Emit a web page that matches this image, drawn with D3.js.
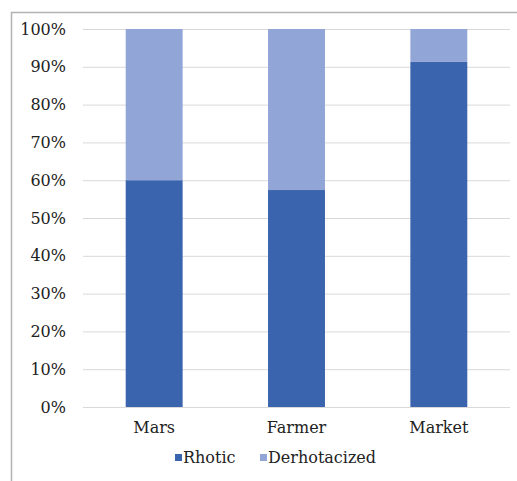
<!DOCTYPE html>
<html><head><meta charset="utf-8">
<script src="https://cdn.jsdelivr.net/npm/d3@7"></script>
<style>body{margin:0;background:#fff}svg{display:block}</style>
</head><body>
<script>
const categories = ["Mars", "Farmer", "Market"];
const rhotic = [0.60, 0.574, 0.913];
const derhotacized = [0.40, 0.426, 0.087];
const seriesNames = ["Rhotic", "Derhotacized"];
const yTicks = [0,0.1,0.2,0.3,0.4,0.5,0.6,0.7,0.8,0.9,1.0];
const colors = ["#3A64AD", "#91A5D6"];

const W = 517, H = 481;
const svg = d3.select("body").append("svg").attr("width", W).attr("height", H);
const fs = 16;
const font = "DejaVu Serif";

svg.append("path").attr("d", `M11.5,${H} L11.5,12.5 L${W},12.5`).attr("fill","none").attr("stroke","#b3b3b3").attr("stroke-width",1.5);

const m = {l:83, r:510, t:29, b:407};
const x = d3.scaleBand().domain(categories).range([m.l, m.r]).paddingInner(0.6).paddingOuter(0.3);
const y = d3.scaleLinear().domain([0,1]).range([m.b, m.t]);

const ga = svg.append("g").attr("transform", `translate(${m.l},0)`)
  .call(d3.axisLeft(y).tickValues(yTicks).tickFormat(d3.format(".0%")).tickSize(-(m.r-m.l)).tickPadding(17));
ga.attr("font-family", null).attr("font-size", null);
ga.select(".domain").remove();
ga.selectAll(".tick line").attr("stroke","#d9d9d9").attr("stroke-width",1);
ga.selectAll(".tick text").style("font-family",font).style("font-size",fs+"px").attr("fill","#222");

const data = categories.map((c,i)=>({cat:c, Rhotic:rhotic[i], Derhotacized:derhotacized[i]}));
const stack = d3.stack().keys(seriesNames)(data);
svg.append("g").selectAll("g").data(stack).join("g").attr("fill",(d,i)=>colors[i])
  .selectAll("rect").data(d=>d).join("rect")
  .attr("x", d=>x(d.data.cat)).attr("width", x.bandwidth())
  .attr("y", d=>y(Math.min(d[1],1))).attr("height", d=>y(d[0])-y(Math.min(d[1],1)));

const gx = svg.append("g").attr("transform", `translate(0,${m.b})`).call(d3.axisBottom(x).tickSize(0).tickPadding(15));
gx.attr("font-family", null).attr("font-size", null);
gx.select(".domain").remove();
gx.selectAll(".tick text").style("font-family",font).style("font-size",fs+"px").attr("fill","#222");

const lg = svg.append("g").attr("transform","translate(175,463)");
const items = [{n:seriesNames[0], x:0},{n:seriesNames[1], x:85}];
items.forEach((it,i)=>{
  lg.append("rect").attr("x",it.x).attr("y",-9).attr("width",7).attr("height",7).attr("fill",colors[i]);
  lg.append("text").attr("x",it.x+8).attr("y",0).style("font-family",font).style("font-size",fs+"px").attr("fill","#222").text(it.n);
});
</script>
</body></html>
